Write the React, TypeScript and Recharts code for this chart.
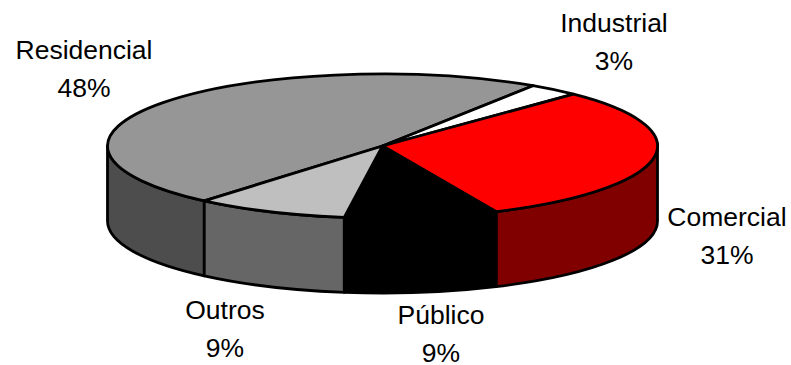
import React from "react";
import { PieChart, Pie } from "recharts";

// Energy consumption share by sector
const categories = ["Residencial", "Industrial", "Comercial", "Público", "Outros"];
const shares = [48, 3, 31, 9, 9];
const topColors = ["#969696", "#ffffff", "#ff0000", "#000000", "#bfbfbf"];
const wallColors = ["#4d4d4d", "#808080", "#800000", "#000000", "#666666"];

// Label centre and first baseline for each category
const labelX = [84, 614, 727, 441, 225];
const labelY = [59, 32, 226, 324, 319];
const LINE_GAP = 38;

// Disc proportions: the pie is flattened and extruded downwards
const SQUASH = 0.262;
const DEPTH = 75;

const rows = categories.map((name, i) => ({ name, value: shares[i] }));

const rad = (deg: number) => (deg * Math.PI) / 180;

function Slice3D(props: any) {
  const { cx, cy, outerRadius: rx, startAngle, endAngle, index } = props;
  const ry = rx * SQUASH;
  const px = (a: number) => cx + rx * Math.cos(rad(a));
  const py = (a: number) => cy - ry * Math.sin(rad(a));
  const hi = Math.max(startAngle, endAngle);
  const lo = Math.min(startAngle, endAngle);

  // Only the part of the rim facing the viewer gets a wall
  const walls: string[] = [];
  for (const shift of [-360, 0, 360]) {
    const a = Math.min(hi, shift);
    const b = Math.max(lo, shift - 180);
    if (a > b) {
      walls.push(
        `M${px(a)},${py(a)} A${rx},${ry} 0 0 1 ${px(b)},${py(b)} ` +
          `L${px(b)},${py(b) + DEPTH} A${rx},${ry} 0 0 0 ${px(a)},${py(a) + DEPTH} Z`
      );
    }
  }
  const large = hi - lo > 180 ? 1 : 0;
  const top = `M${cx},${cy} L${px(hi)},${py(hi)} A${rx},${ry} 0 ${large} 1 ${px(lo)},${py(lo)} Z`;

  return (
    <g stroke="#000" strokeWidth={2.8} strokeLinejoin="round">
      {walls.map((d, i) => (
        <path key={i} d={d} fill={wallColors[index]} />
      ))}
      <path d={top} fill={topColors[index]} />
    </g>
  );
}

function SliceLabel(props: any) {
  const { index, name, value } = props;
  return (
    <text
      textAnchor="middle"
      fontFamily="'Liberation Sans', Arial, sans-serif"
      fontSize={26.5}
      fill="#000"
    >
      <tspan x={labelX[index]} y={labelY[index]}>{name}</tspan>
      <tspan x={labelX[index]} y={labelY[index] + LINE_GAP}>{value}%</tspan>
    </text>
  );
}

export default function App() {
  return (
    <div style={{ position: "absolute", left: 0, top: 0 }}>
      <PieChart width={791} height={365} margin={{ top: 0, right: 0, bottom: 0, left: 0 }}>
        <Pie
          data={rows}
          dataKey="value"
          nameKey="name"
          cx={382.5}
          cy={146}
          innerRadius={0}
          outerRadius={275}
          startAngle={229.6}
          endAngle={-130.4}
          paddingAngle={0}
          shape={Slice3D}
          label={SliceLabel}
          labelLine={false}
          isAnimationActive={false}
          rootTabIndex={-1}
        />
      </PieChart>
    </div>
  );
}
